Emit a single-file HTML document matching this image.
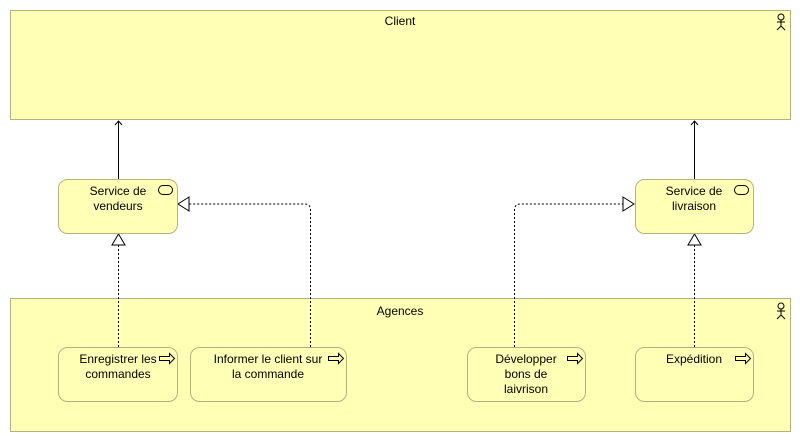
<!DOCTYPE html>
<html><head><style>body{margin:0;background:#fff}svg{display:block}text{font-family:"Liberation Sans",sans-serif;font-size:12px;fill:#000}</style></head><body>
<svg width="801" height="442" xmlns="http://www.w3.org/2000/svg">
<defs>
<g id="actor" fill="none" stroke="#000" stroke-width="1"><circle cx="0" cy="3" r="3"/><line x1="0" y1="6" x2="0" y2="12"/><line x1="-4" y1="8" x2="4" y2="8"/><line x1="0" y1="12" x2="-4" y2="16"/><line x1="0" y1="12" x2="4" y2="16"/></g>
<g id="svc"><rect x="0" y="0" width="14" height="9" rx="4.5" fill="none" stroke="#000"/></g>
<g id="proc"><path d="M0,3h10v-3l5,5l-5,5v-3h-10z" fill="none" stroke="#000"/></g>
</defs>
<rect x="10.5" y="10.5" width="780" height="109" fill="#ffffb5" stroke="#b2b27f"/>
<text x="400" y="25" text-anchor="middle">Client</text>
<use href="#actor" x="781" y="14"/>
<rect x="10.5" y="298.5" width="780" height="133" fill="#ffffb5" stroke="#b2b27f"/>
<text x="400" y="315" text-anchor="middle">Agences</text>
<use href="#actor" x="781" y="303"/>
<g stroke="#000" fill="none">
<line x1="118.5" y1="121" x2="118.5" y2="179"/><path d="M115,125l3.5,-4l3.5,4"/>
<line x1="694.5" y1="121" x2="694.5" y2="179"/><path d="M691,125l3.5,-4l3.5,4"/>
</g>
<g stroke="#000" fill="none" stroke-dasharray="2,2">
<line x1="118.5" y1="245" x2="118.5" y2="347"/>
<path d="M310.5,347V210q0,-6 -6,-6H189"/>
<path d="M514.5,347V210q0,-6 6,-6H623"/>
<line x1="694.5" y1="245" x2="694.5" y2="347"/>
</g>
<g stroke="#000" fill="#fff">
<path d="M112,245l6.5,-11l6.5,11z"/>
<path d="M688,245l6.5,-11l6.5,11z"/>
<path d="M189,197l-11,7l11,7z"/>
<path d="M623,197l11,7l-11,7z"/>
</g>
<g fill="#ffffb5" stroke="#b2b27f">
<rect x="58.5" y="179.5" width="119" height="54" rx="9"/>
<rect x="635.5" y="179.5" width="118" height="54" rx="9"/>
<rect x="58.5" y="347.5" width="119" height="54" rx="9"/>
<rect x="190.5" y="347.5" width="156" height="54" rx="9"/>
<rect x="467.5" y="347.5" width="118" height="54" rx="9"/>
<rect x="635.5" y="347.5" width="118" height="54" rx="9"/>
</g>
<use href="#svc" x="158.5" y="185.5"/><use href="#svc" x="734.5" y="185.5"/>
<use href="#proc" x="159.5" y="353.5"/><use href="#proc" x="328.5" y="353.5"/><use href="#proc" x="567.5" y="353.5"/><use href="#proc" x="735.5" y="353.5"/>
<text x="118" y="195" text-anchor="middle">Service de</text><text x="118" y="210" text-anchor="middle">vendeurs</text>
<text x="694" y="195" text-anchor="middle">Service de</text><text x="694" y="210" text-anchor="middle">livraison</text>
<text x="118" y="363" text-anchor="middle">Enregistrer les</text><text x="118" y="378" text-anchor="middle">commandes</text>
<text x="268" y="363" text-anchor="middle">Informer le client sur</text><text x="268" y="378" text-anchor="middle">la commande</text>
<text x="526" y="363" text-anchor="middle">Développer</text><text x="526" y="378" text-anchor="middle">bons de</text><text x="526" y="393" text-anchor="middle">laivrison</text>
<text x="694" y="363" text-anchor="middle">Expédition</text>
</svg>
</body></html>
